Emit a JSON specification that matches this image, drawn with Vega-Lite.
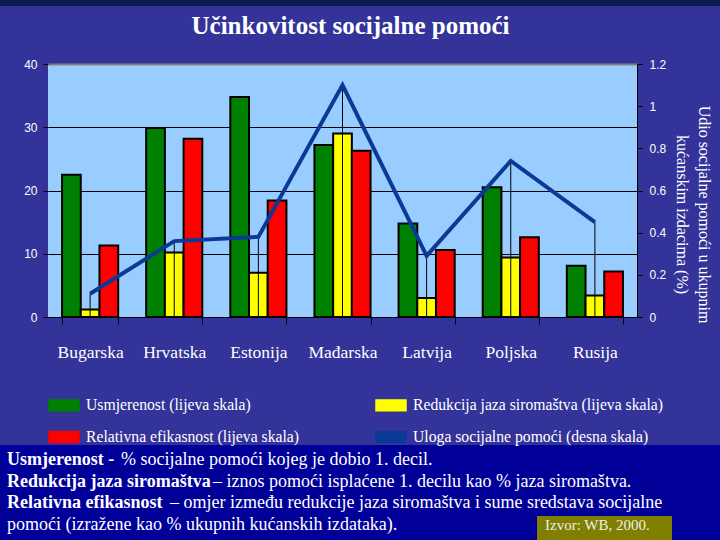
{
  "$schema": "https://vega.github.io/schema/vega-lite/v6.json",
  "background": "#333399",
  "padding": {"left": 0, "top": 0, "right": 0, "bottom": 0},
  "spacing": 84,
  "datasets": {
    "stupci": [
      {"zemlja": "Bugarska", "serija": "Usmjerenost (lijeva skala)", "vrijednost": 22.5},
      {"zemlja": "Bugarska", "serija": "Redukcija jaza siromaštva (lijeva skala)", "vrijednost": 1.2},
      {"zemlja": "Bugarska", "serija": "Relativna efikasnost (lijeva skala)", "vrijednost": 11.3},
      {"zemlja": "Hrvatska", "serija": "Usmjerenost (lijeva skala)", "vrijednost": 29.9},
      {"zemlja": "Hrvatska", "serija": "Redukcija jaza siromaštva (lijeva skala)", "vrijednost": 10.2},
      {"zemlja": "Hrvatska", "serija": "Relativna efikasnost (lijeva skala)", "vrijednost": 28.2},
      {"zemlja": "Estonija", "serija": "Usmjerenost (lijeva skala)", "vrijednost": 34.8},
      {"zemlja": "Estonija", "serija": "Redukcija jaza siromaštva (lijeva skala)", "vrijednost": 7.0},
      {"zemlja": "Estonija", "serija": "Relativna efikasnost (lijeva skala)", "vrijednost": 18.4},
      {"zemlja": "Mađarska", "serija": "Usmjerenost (lijeva skala)", "vrijednost": 27.2},
      {"zemlja": "Mađarska", "serija": "Redukcija jaza siromaštva (lijeva skala)", "vrijednost": 29.0},
      {"zemlja": "Mađarska", "serija": "Relativna efikasnost (lijeva skala)", "vrijednost": 26.3},
      {"zemlja": "Latvija", "serija": "Usmjerenost (lijeva skala)", "vrijednost": 14.8},
      {"zemlja": "Latvija", "serija": "Redukcija jaza siromaštva (lijeva skala)", "vrijednost": 3.0},
      {"zemlja": "Latvija", "serija": "Relativna efikasnost (lijeva skala)", "vrijednost": 10.6},
      {"zemlja": "Poljska", "serija": "Usmjerenost (lijeva skala)", "vrijednost": 20.5},
      {"zemlja": "Poljska", "serija": "Redukcija jaza siromaštva (lijeva skala)", "vrijednost": 9.4},
      {"zemlja": "Poljska", "serija": "Relativna efikasnost (lijeva skala)", "vrijednost": 12.6},
      {"zemlja": "Rusija", "serija": "Usmjerenost (lijeva skala)", "vrijednost": 8.1},
      {"zemlja": "Rusija", "serija": "Redukcija jaza siromaštva (lijeva skala)", "vrijednost": 3.4},
      {"zemlja": "Rusija", "serija": "Relativna efikasnost (lijeva skala)", "vrijednost": 7.2}
    ],
    "linija": [
      {"zemlja": "Bugarska", "udio": 0.11},
      {"zemlja": "Hrvatska", "udio": 0.36},
      {"zemlja": "Estonija", "udio": 0.38},
      {"zemlja": "Mađarska", "udio": 1.10},
      {"zemlja": "Latvija", "udio": 0.29},
      {"zemlja": "Poljska", "udio": 0.74},
      {"zemlja": "Rusija", "udio": 0.45}
    ],
    "napomene": [
      {"red": 1, "dio": "b", "tekst": "Usmjerenost -"},
      {"red": 1, "dio": "r", "tekst": "% socijalne pomoći kojeg je dobio 1. decil."},
      {"red": 2, "dio": "b", "tekst": "Redukcija jaza siromaštva"},
      {"red": 2, "dio": "r", "tekst": "– iznos pomoći isplaćene 1. decilu kao % jaza siromaštva."},
      {"red": 3, "dio": "b", "tekst": "Relativna efikasnost"},
      {"red": 3, "dio": "r", "tekst": "– omjer između redukcije jaza siromaštva i sume sredstava socijalne"},
      {"red": 4, "dio": "r", "tekst": "pomoći (izražene kao % ukupnih kućanskih izdataka)."},
      {"red": 4, "dio": "izvor", "tekst": "Izvor: WB, 2000."}
    ],
    "prazno": []
  },
  "vconcat": [
    {
      "spacing": 8,
      "vconcat": [
        {
          "width": 720,
          "height": 6,
          "data": {"name": "prazno"},
          "mark": "rect",
          "view": {"fill": "#0b1b4b", "stroke": null}
        },
        {
          "spacing": 0,
          "hconcat": [
            {
              "width": 1,
              "height": 253,
              "data": {"name": "prazno"},
              "mark": "rect",
              "view": {"stroke": null}
            },
            {
              "title": {"text": "Učinkovitost socijalne pomoći", "font": "Liberation Serif", "fontSize": 25, "fontWeight": "bold", "color": "white", "anchor": "middle", "offset": 13, "dx": 8},
              "width": 589,
              "height": 253,
              "view": {"fill": "#99ccff", "stroke": null},
              "layer": [
                {
                  "data": {"name": "stupci"},
                  "mark": {"type": "bar", "stroke": "black", "strokeWidth": 2},
                  "encoding": {
                    "x": {
                      "field": "zemlja", "type": "nominal",
                      "sort": ["Bugarska", "Hrvatska", "Estonija", "Mađarska", "Latvija", "Poljska", "Rusija"],
                      "scale": {"paddingInner": 0.333, "paddingOuter": 0.167},
                      "axis": {"title": null, "tickBand": "extent", "domain": true, "domainColor": "black", "domainWidth": 1, "ticks": true, "tickColor": "black", "tickSize": 7, "labelAngle": 0, "labelFont": "Liberation Serif", "labelFontSize": 17.5, "labelColor": "white", "labelPadding": 19, "grid": false}
                    },
                    "xOffset": {
                      "field": "serija", "type": "nominal",
                      "sort": ["Usmjerenost (lijeva skala)", "Redukcija jaza siromaštva (lijeva skala)", "Relativna efikasnost (lijeva skala)"],
                      "scale": {"paddingInner": 0, "paddingOuter": 0}
                    },
                    "y": {
                      "field": "vrijednost", "type": "quantitative",
                      "scale": {"domain": [0, 40]},
                      "axis": {
                        "orient": "left", "values": [0, 10, 20, 30, 40], "grid": true,
                        "gridColor": {"condition": {"test": "datum.value === 40", "value": "#808080"}, "value": "black"},
                        "gridWidth": {"condition": {"test": "datum.value === 40", "value": 2}, "value": 1},
                        "domain": false, "ticks": true, "tickColor": "black", "tickSize": 5,
                        "labelFont": "Liberation Sans", "labelFontSize": 12, "labelColor": "white", "labelPadding": 6,
                        "title": ".", "titleX": -47, "titleY": -4, "titleAngle": 0, "titleAlign": "left", "titleBaseline": "bottom", "titleColor": "#333399", "titleFontSize": 8
                      }
                    },
                    "color": {
                      "field": "serija", "type": "nominal",
                      "scale": {
                        "domain": ["Usmjerenost (lijeva skala)", "Relativna efikasnost (lijeva skala)", "Redukcija jaza siromaštva (lijeva skala)", "Uloga socijalne pomoći (desna skala)"],
                        "range": ["#008000", "#ff0000", "#ffff00", "#0a3a96"]
                      },
                      "legend": {
                        "title": null, "orient": "none", "legendX": 48, "legendY": 389, "columns": 2, "columnPadding": 73, "rowPadding": 7, "padding": 0,
                        "labelFont": "Liberation Serif", "labelFontSize": 15.7, "labelColor": "white", "labelLimit": 400, "labelOffset": 6,
                        "symbolSize": 900, "symbolType": "M-1,-0.36H1V0.36H-1Z",
                        "encode": {
                          "labels": {"update": {"fontSize": {"value": 15.7}, "font": {"value": "Liberation Serif"}, "fill": {"value": "white"}}},
                          "symbols": {
                            "update": {
                              "shape": {"signal": "indexof(datum.value, 'Uloga') === 0 ? 'M-1,-0.08H1V0.08H-1Z' : 'M-1,-0.36H1V0.36H-1Z'"},
                              "fill": {"scale": "color", "field": "value"},
                              "stroke": {"signal": "indexof(datum.value, 'Uloga') === 0 ? 'transparent' : 'black'"},
                              "strokeWidth": {"value": 2},
                              "size": {"value": 900},
                              "opacity": {"value": 1},
                              "fillOpacity": {"value": 1}
                            }
                          }
                        }
                      }
                    }
                  }
                },
                {
                  "data": {"name": "linija"},
                  "mark": {"type": "rule", "color": "black", "strokeWidth": 1},
                  "encoding": {
                    "x": {"field": "zemlja", "type": "nominal", "sort": ["Bugarska", "Hrvatska", "Estonija", "Mađarska", "Latvija", "Poljska", "Rusija"]},
                    "y": {"field": "udio", "type": "quantitative", "scale": {"domain": [0, 1.2]}, "axis": null},
                    "y2": {"datum": 0}
                  }
                },
                {
                  "data": {"name": "linija"},
                  "mark": {"type": "line", "strokeWidth": 4},
                  "encoding": {
                    "x": {"field": "zemlja", "type": "nominal", "sort": ["Bugarska", "Hrvatska", "Estonija", "Mađarska", "Latvija", "Poljska", "Rusija"]},
                    "y": {
                      "field": "udio", "type": "quantitative", "scale": {"domain": [0, 1.2]},
                      "axis": {
                        "orient": "right", "values": [0, 0.2, 0.4, 0.6, 0.8, 1, 1.2], "format": "~g", "grid": false,
                        "domain": true, "domainColor": "black", "ticks": true, "tickColor": "black", "tickSize": 5,
                        "labelFont": "Liberation Sans", "labelFontSize": 12, "labelColor": "white", "labelPadding": 7,
                        "title": ["Udio socijalne pomoći u ukupnim", "kućanskim izdacima (%)"],
                        "titleFont": "Liberation Serif", "titleFontSize": 16, "titleFontWeight": "normal", "titleColor": "white",
                        "titleLineHeight": 22, "titleX": 66, "titleY": 150, "titleAngle": 90, "titleAlign": "center", "titleBaseline": "middle"
                      }
                    },
                    "color": {"datum": "Uloga socijalne pomoći (desna skala)"}
                  }
                }
              ],
              "resolve": {"scale": {"y": "independent"}}
            }
          ]
        }
      ]
    },
    {
      "width": 720,
      "height": 95,
      "view": {"fill": "#000099", "stroke": null},
      "data": {"name": "napomene"},
      "layer": [
        {
          "transform": [{"filter": "datum.dio === 'izvor'"}],
          "mark": {"type": "rect", "color": "#808000", "x": 537, "x2": 672, "y": 71, "y2": 95},
          "encoding": {}
        },
        {
          "transform": [{"filter": "datum.dio === 'b'"}],
          "mark": {"type": "text", "align": "left", "baseline": "middle", "x": 7, "font": "Liberation Serif", "fontSize": 18, "fontWeight": "bold", "color": "white"},
          "encoding": {
            "y": {"field": "red", "type": "ordinal", "scale": {"type": "point", "padding": 0.7, "domain": [1, 2, 3, 4]}, "axis": null},
            "text": {"field": "tekst"}
          }
        },
        {
          "transform": [{"filter": "datum.dio === 'r' && datum.red === 1"}],
          "mark": {"type": "text", "align": "left", "baseline": "middle", "x": 121, "font": "Liberation Serif", "fontSize": 18, "color": "white"},
          "encoding": {
            "y": {"field": "red", "type": "ordinal", "scale": {"type": "point", "padding": 0.7, "domain": [1, 2, 3, 4]}, "axis": null},
            "text": {"field": "tekst"}
          }
        },
        {
          "transform": [{"filter": "datum.dio === 'r' && datum.red === 2"}],
          "mark": {"type": "text", "align": "left", "baseline": "middle", "x": 213, "font": "Liberation Serif", "fontSize": 18, "color": "white"},
          "encoding": {
            "y": {"field": "red", "type": "ordinal", "scale": {"type": "point", "padding": 0.7, "domain": [1, 2, 3, 4]}, "axis": null},
            "text": {"field": "tekst"}
          }
        },
        {
          "transform": [{"filter": "datum.dio === 'r' && datum.red === 3"}],
          "mark": {"type": "text", "align": "left", "baseline": "middle", "x": 170, "font": "Liberation Serif", "fontSize": 18, "color": "white"},
          "encoding": {
            "y": {"field": "red", "type": "ordinal", "scale": {"type": "point", "padding": 0.7, "domain": [1, 2, 3, 4]}, "axis": null},
            "text": {"field": "tekst"}
          }
        },
        {
          "transform": [{"filter": "datum.dio === 'r' && datum.red === 4"}],
          "mark": {"type": "text", "align": "left", "baseline": "middle", "x": 7, "font": "Liberation Serif", "fontSize": 18, "color": "white"},
          "encoding": {
            "y": {"field": "red", "type": "ordinal", "scale": {"type": "point", "padding": 0.7, "domain": [1, 2, 3, 4]}, "axis": null},
            "text": {"field": "tekst"}
          }
        },
        {
          "transform": [{"filter": "datum.dio === 'izvor'"}],
          "mark": {"type": "text", "align": "left", "baseline": "middle", "x": 545, "font": "Liberation Serif", "fontSize": 15, "color": "#eeeeee"},
          "encoding": {
            "y": {"field": "red", "type": "ordinal", "scale": {"type": "point", "padding": 0.7, "domain": [1, 2, 3, 4]}, "axis": null},
            "text": {"field": "tekst"}
          }
        }
      ]
    }
  ]
}
